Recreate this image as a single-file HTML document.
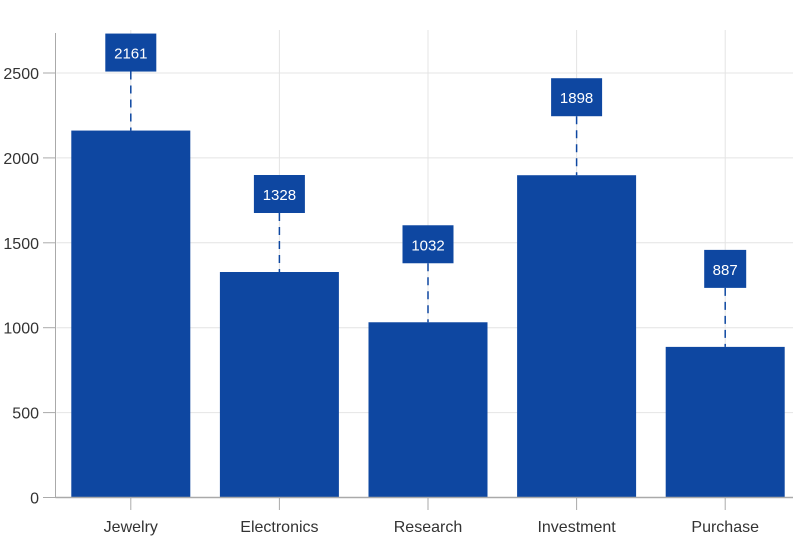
<!DOCTYPE html>
<html><head><meta charset="utf-8"><style>
body{margin:0;background:#fff;font-family:"Liberation Sans",sans-serif}
svg text{font-family:"Liberation Sans",sans-serif}
</style></head><body>
<svg id="chart" width="793" height="537" xmlns="http://www.w3.org/2000/svg">
<g id="grid"></g><g id="bars"></g><g id="axes"></g><g id="labels"></g>
</svg>
<script>
const categories = ["Jewelry","Electronics","Research","Investment","Purchase"];
const values = [2161,1328,1032,1898,887];
const yTicks = [0,500,1000,1500,2000,2500];
const NS="http://www.w3.org/2000/svg";
const x0=56.5, band=148.6, y0=497.5, yScale=(2500-0)/(497.5-73);
function y(v){return y0 - v/yScale;}
function xc(i){return x0 + band*(i+0.5);}
function mk(tag,attrs,parent,txt){const e=document.createElementNS(NS,tag);for(const k in attrs)e.setAttribute(k,attrs[k]);if(txt!==undefined)e.textContent=txt;document.getElementById(parent).appendChild(e);return e;}
yTicks.forEach(t=>{
  const g=mk('line',{x1:x0,x2:793,y1:y(t),y2:y(t),stroke:'#e4e4e4','stroke-width':1},'grid');
  
  
  const tk=mk('line',{x1:43,x2:55.5,y1:y(t),y2:y(t),stroke:'#aaa','stroke-width':1},'axes');
  
  
  const tl=mk('text',{x:39,y:y(t)+6,'text-anchor':'end','font-size':16,fill:'#333'},'axes',String(t));
  
  
});
categories.forEach((c,i)=>{
  const cx=xc(i);
  const vg=mk('line',{x1:cx,x2:cx,y1:30,y2:y0,stroke:'#e4e4e4','stroke-width':1},'grid');
  
  
  const b=mk('rect',{x:cx-59.5,y:y(values[i]),width:119,height:y0-y(values[i]),fill:'#0e47a1'},'bars');
  
  
  const tk=mk('line',{x1:cx,x2:cx,y1:y0,y2:510,stroke:'#aaa','stroke-width':1},'axes');
  
  
  const xl=mk('text',{x:cx,y:532,'text-anchor':'middle','font-size':16,fill:'#333'},'axes',c);
  
  
  const top=y(values[i]);
  const boxB=top-59, boxT=boxB-38;
  const cl=mk('line',{x1:cx,x2:cx,y1:boxB,y2:top,stroke:'#0e47a1','stroke-width':1.5,'stroke-dasharray':'8,6'},'labels');
  
  
  const w=String(values[i]).length*9+15;
  const bx=mk('rect',{x:cx-w/2,y:boxT,width:w,height:38,fill:'#0e47a1'},'labels');
  
  
  const lt=mk('text',{x:cx,y:boxT+25,'text-anchor':'middle','font-size':15,fill:'#fff'},'labels',String(values[i]));
  
  
});
const ya=mk('line',{x1:55.5,x2:55.5,y1:33,y2:y0,stroke:'#aaa','stroke-width':1},'axes');


const xa=mk('line',{x1:55.5,x2:793,y1:y0,y2:y0,stroke:'#aaa','stroke-width':1.5},'axes');


</script>
</body></html>
